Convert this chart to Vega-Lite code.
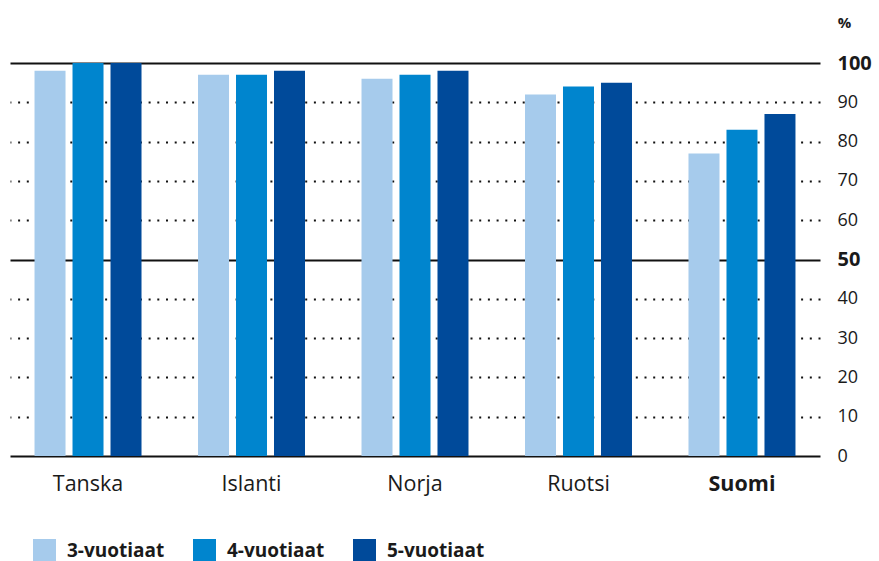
{
  "$schema": "https://vega.github.io/schema/vega-lite/v6.json",
  "width": 810,
  "height": 393,
  "autosize": {"type": "none"},
  "padding": {"left": 10, "top": 63, "right": 59, "bottom": 105},
  "background": "white",
  "config": {
    "view": {"stroke": null},
    "font": "Open Sans"
  },
  "data": {
    "values": [
      {"country": "Tanska", "age": "3-vuotiaat", "value": 98},
      {"country": "Tanska", "age": "4-vuotiaat", "value": 100},
      {"country": "Tanska", "age": "5-vuotiaat", "value": 100},
      {"country": "Islanti", "age": "3-vuotiaat", "value": 97},
      {"country": "Islanti", "age": "4-vuotiaat", "value": 97},
      {"country": "Islanti", "age": "5-vuotiaat", "value": 98},
      {"country": "Norja", "age": "3-vuotiaat", "value": 96},
      {"country": "Norja", "age": "4-vuotiaat", "value": 97},
      {"country": "Norja", "age": "5-vuotiaat", "value": 98},
      {"country": "Ruotsi", "age": "3-vuotiaat", "value": 92},
      {"country": "Ruotsi", "age": "4-vuotiaat", "value": 94},
      {"country": "Ruotsi", "age": "5-vuotiaat", "value": 95},
      {"country": "Suomi", "age": "3-vuotiaat", "value": 77},
      {"country": "Suomi", "age": "4-vuotiaat", "value": 83},
      {"country": "Suomi", "age": "5-vuotiaat", "value": 87}
    ]
  },
  "mark": {"type": "bar"},
  "encoding": {
    "x": {
      "field": "country",
      "type": "nominal",
      "sort": ["Tanska", "Islanti", "Norja", "Ruotsi", "Suomi"],
      "scale": {"paddingInner": 0.3456, "paddingOuter": 0.15, "align": 0.5},
      "axis": {
        "title": null,
        "domain": false,
        "ticks": false,
        "labelAngle": 0,
        "labelFontSize": 21.5,
        "labelColor": "#1a1a1a",
        "labelPadding": 17,
        "labelFontWeight": {"condition": {"test": "datum.value === 'Suomi'", "value": "bold"}, "value": "normal"}
      }
    },
    "xOffset": {
      "field": "age",
      "type": "nominal",
      "scale": {"paddingInner": 0.184, "paddingOuter": 0}
    },
    "y": {
      "field": "value",
      "type": "quantitative",
      "scale": {"domain": [0, 100], "nice": false},
      "axis": {
        "orient": "right",
        "values": [0, 10, 20, 30, 40, 50, 60, 70, 80, 90, 100],
        "domain": false,
        "ticks": false,
        "labelAlign": "left",
        "labelBaseline": "middle",
        "labelPadding": 17,
        "labelColor": "#1a1a1a",
        "labelFontSize": {"condition": {"test": "datum.value === 50 || datum.value === 100", "value": 20}, "value": 18},
        "labelFontWeight": {"condition": {"test": "datum.value === 50 || datum.value === 100", "value": "bold"}, "value": "normal"},
        "grid": true,
        "gridColor": "#111111",
        "gridOpacity": 1,
        "gridWidth": 2,
        "gridDash": {"condition": {"test": "datum.value % 50 === 0", "value": []}, "value": [2, 6.7]},
        "title": "%",
        "titleAngle": 0,
        "titleX": 24,
        "titleY": -41,
        "titleAlign": "center",
        "titleBaseline": "middle",
        "titleFontSize": 15,
        "titleFontWeight": "bold",
        "titleColor": "#1a1a1a"
      }
    },
    "color": {
      "field": "age",
      "type": "nominal",
      "scale": {
        "domain": ["3-vuotiaat", "4-vuotiaat", "5-vuotiaat"],
        "range": ["#A6CBEC", "#0085CE", "#004A9A"]
      },
      "legend": {
        "title": null,
        "orient": "none",
        "legendX": 23,
        "legendY": 476,
        "direction": "horizontal",
        "symbolType": "square",
        "symbolSize": 529,
        "symbolStrokeWidth": 0,
        "symbolOpacity": 1,
        "labelFontSize": 19,
        "labelFontWeight": "bold",
        "labelColor": "#1a1a1a",
        "labelOffset": 11,
        "columnPadding": 28,
        "padding": 0
      }
    }
  }
}
